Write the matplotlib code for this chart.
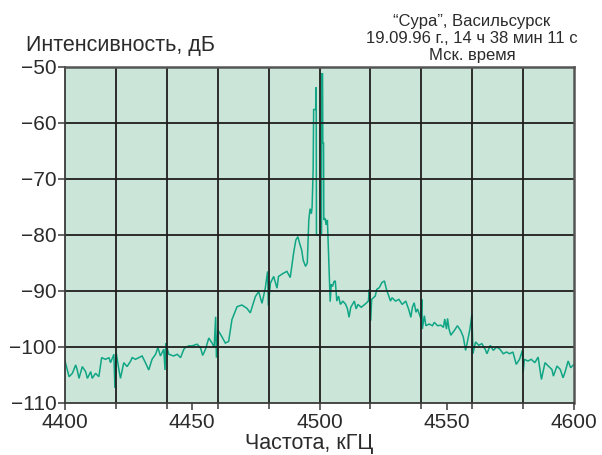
import matplotlib
matplotlib.use("Agg")
import matplotlib.pyplot as plt
from matplotlib.ticker import MultipleLocator

plt.rcParams['font.family'] = ['Liberation Sans', 'DejaVu Sans']

# Spectrum trace: frequency (kHz) and intensity (dB)
freq_khz = [
    4400.0, 4401.6, 4402.9, 4404.2, 4404.8, 4405.5, 4406.8, 4408.1, 4408.8, 4410.1,
    4410.7, 4412.0, 4413.3, 4414.4, 4415.9, 4417.3, 4417.9, 4419.2, 4419.6, 4420.1,
    4421.2, 4421.8, 4423.1, 4424.4, 4425.8, 4426.4, 4427.7, 4429.0, 4430.3, 4431.6,
    4432.9, 4434.2, 4435.6, 4436.5, 4437.5, 4438.8, 4439.3, 4439.6, 4440.8, 4442.7,
    4444.1, 4445.4, 4446.7, 4447.3, 4448.6, 4449.9, 4451.9, 4453.2, 4454.1, 4455.2,
    4456.5, 4457.8, 4458.6, 4459.2, 4459.5, 4460.1, 4461.7, 4463.0, 4464.3, 4465.6,
    4467.6, 4469.5, 4471.5, 4472.8, 4474.8, 4476.1, 4477.4, 4478.7, 4479.6, 4479.9,
    4480.7, 4482.0, 4483.3, 4483.9, 4485.9, 4487.2, 4488.5, 4489.8, 4490.7, 4491.5,
    4492.0, 4493.0, 4493.6, 4494.5, 4495.2, 4495.8, 4496.3, 4496.8, 4497.1, 4497.5,
    4497.7, 4498.5, 4498.6, 4498.7, 4498.8, 4500.8, 4500.9, 4501.2, 4501.3, 4501.6,
    4501.7, 4502.2, 4502.6, 4503.1, 4503.4, 4503.8, 4504.2, 4504.6, 4505.1, 4505.7,
    4506.2, 4506.8, 4507.5, 4508.2, 4509.2, 4510.3, 4511.0, 4511.6, 4512.3, 4513.7,
    4514.4, 4515.1, 4516.4, 4517.8, 4519.2, 4519.6, 4520.1, 4520.5, 4521.9, 4522.5,
    4523.5, 4524.5, 4525.5, 4526.3, 4527.2, 4527.9, 4528.5, 4529.9, 4531.2, 4532.5,
    4533.9, 4535.2, 4535.9, 4536.5, 4537.2, 4537.9, 4538.5, 4539.2, 4539.9, 4540.2,
    4540.4, 4541.2, 4541.8, 4543.1, 4544.4, 4545.1, 4546.4, 4547.7, 4548.7, 4549.2,
    4549.9, 4550.3, 4550.9, 4551.6, 4552.9, 4554.2, 4555.5, 4556.5, 4557.4, 4558.1,
    4559.1, 4559.9, 4560.3, 4561.3, 4562.6, 4563.8, 4565.1, 4565.8, 4567.1, 4568.3,
    4569.6, 4570.9, 4572.2, 4573.5, 4574.7, 4576.0, 4577.3, 4578.6, 4579.7, 4580.0,
    4580.5, 4581.9, 4583.2, 4584.6, 4585.9, 4587.2, 4588.6, 4589.9, 4591.3, 4591.9,
    4593.3, 4594.6, 4595.7, 4596.6, 4597.7, 4598.7, 4600.0,
]
level_db = [
    -102.5, -105.3, -104.7, -103.2, -104.1, -105.6, -103.5, -104.4, -105.6, -104.4,
    -105.6, -104.7, -105.3, -101.9, -102.2, -101.9, -102.8, -101.3, -107.3, -101.0,
    -104.1, -105.6, -102.8, -103.5, -102.5, -101.9, -102.2, -101.9, -101.6, -102.8,
    -104.1, -102.2, -101.3, -100.1, -101.6, -100.4, -104.1, -99.3, -101.3, -101.6,
    -101.3, -101.9, -100.4, -100.1, -99.8, -99.8, -99.5, -100.1, -101.5, -100.4,
    -98.4, -99.3, -100.1, -94.6, -101.9, -97.0, -98.2, -99.3, -99.0, -95.1,
    -92.8, -92.5, -93.1, -93.9, -91.0, -90.1, -92.2, -89.5, -86.5, -92.6,
    -88.6, -87.4, -89.5, -87.4, -86.8, -86.5, -87.6, -83.3, -80.9, -80.3,
    -81.2, -82.7, -84.5, -85.6, -85.0, -77.3, -75.3, -76.2, -75.0, -68.4,
    -57.6, -57.6, -53.7, -53.7, -80.0, -80.0, -51.2, -51.2, -63.6, -63.6,
    -77.3, -77.0, -78.2, -77.3, -81.2, -86.9, -91.9, -88.8, -89.2, -88.3,
    -88.2, -91.8, -90.9, -92.4, -91.8, -92.4, -93.2, -94.7, -92.9, -91.8,
    -93.2, -92.4, -92.9, -92.4, -91.8, -89.7, -95.3, -91.5, -90.9, -89.7,
    -89.4, -88.5, -88.2, -89.7, -90.9, -91.8, -91.2, -91.8, -91.5, -92.4,
    -91.8, -93.5, -94.7, -92.9, -92.1, -93.8, -93.2, -94.1, -95.0, -91.5,
    -96.8, -94.4, -96.2, -95.9, -96.2, -95.6, -96.2, -96.1, -96.5, -95.0,
    -96.8, -94.9, -96.8, -97.9, -97.1, -96.2, -97.1, -98.2, -100.6, -99.1,
    -96.8, -94.1, -101.2, -99.1, -99.7, -99.4, -100.4, -101.2, -99.7, -100.6,
    -100.0, -100.4, -101.2, -100.9, -101.2, -100.9, -103.1, -102.2, -100.6, -104.6,
    -102.2, -102.5, -102.2, -102.8, -101.8, -105.8, -102.8, -103.4, -104.0, -105.2,
    -103.4, -104.0, -105.5, -104.3, -102.5, -103.7, -103.1,
]

x_range = (4400, 4600)
y_range = (-110, -50)
x_tick_step = 50
x_grid_step = 20
y_tick_step = 10

y_title = "Интенсивность, дБ"
x_title = "Частота, кГЦ"
caption_lines = ["\u201cСура\u201d, Васильсурск", "19.09.96 г., 14 ч 38 мин 11 с", "Мск. время"]

bg_color = "#cbe6d8"
trace_color = "#0fa585"
grid_color = "#1e1e1e"
text_color = "#2b2b2b"

W, H = 602, 455
fig = plt.figure(figsize=(W / 100, H / 100), dpi=100)
ax = fig.add_axes([65 / W, 1 - 403 / H, 509 / W, 336 / H])
ax.set_facecolor(bg_color)

ax.plot(freq_khz, level_db, color=trace_color, lw=1.1, zorder=2, solid_joinstyle="miter")

ax.set_xlim(*x_range)
ax.set_ylim(*y_range)
ax.xaxis.set_major_locator(MultipleLocator(x_tick_step))
ax.xaxis.set_minor_locator(MultipleLocator(x_grid_step))
ax.yaxis.set_major_locator(MultipleLocator(y_tick_step))

for gx in range(x_range[0] + x_grid_step, x_range[1], x_grid_step):
    ax.axvline(gx, color=grid_color, lw=1.3, zorder=3)
for gy in range(y_range[0] + y_tick_step, y_range[1], y_tick_step):
    ax.axhline(gy, color=grid_color, lw=1.3, zorder=3)

for side in ["left", "bottom"]:
    ax.spines[side].set_color("#3a3a3a")
    ax.spines[side].set_linewidth(1.3)
for side in ["right", "top"]:
    ax.spines[side].set_color("#555555")
    ax.spines[side].set_linewidth(1.8)
for s in ax.spines.values():
    s.set_zorder(4)

ax.tick_params(axis="both", which="both", direction="out", length=5, width=1.1,
               color="#3a3a3a", labelsize=15, labelcolor=text_color)
ax.tick_params(axis="y", pad=1)
ax.tick_params(axis="x", which="major", pad=2)
ax.tick_params(axis="x", which="minor", length=4)

fig.text(26 / W, 1 - 51 / H, y_title, fontsize=15.5, color=text_color,
         ha="left", va="baseline")
fig.text(309 / W, 1 - 449 / H, x_title, fontsize=15.5, color=text_color,
         ha="center", va="baseline")

for line, base in zip(caption_lines, [26, 43, 60]):
    fig.text(472 / W, 1 - base / H, line, fontsize=12,
             color=text_color, ha="center", va="baseline")

fig.savefig("out.png", dpi=100)
